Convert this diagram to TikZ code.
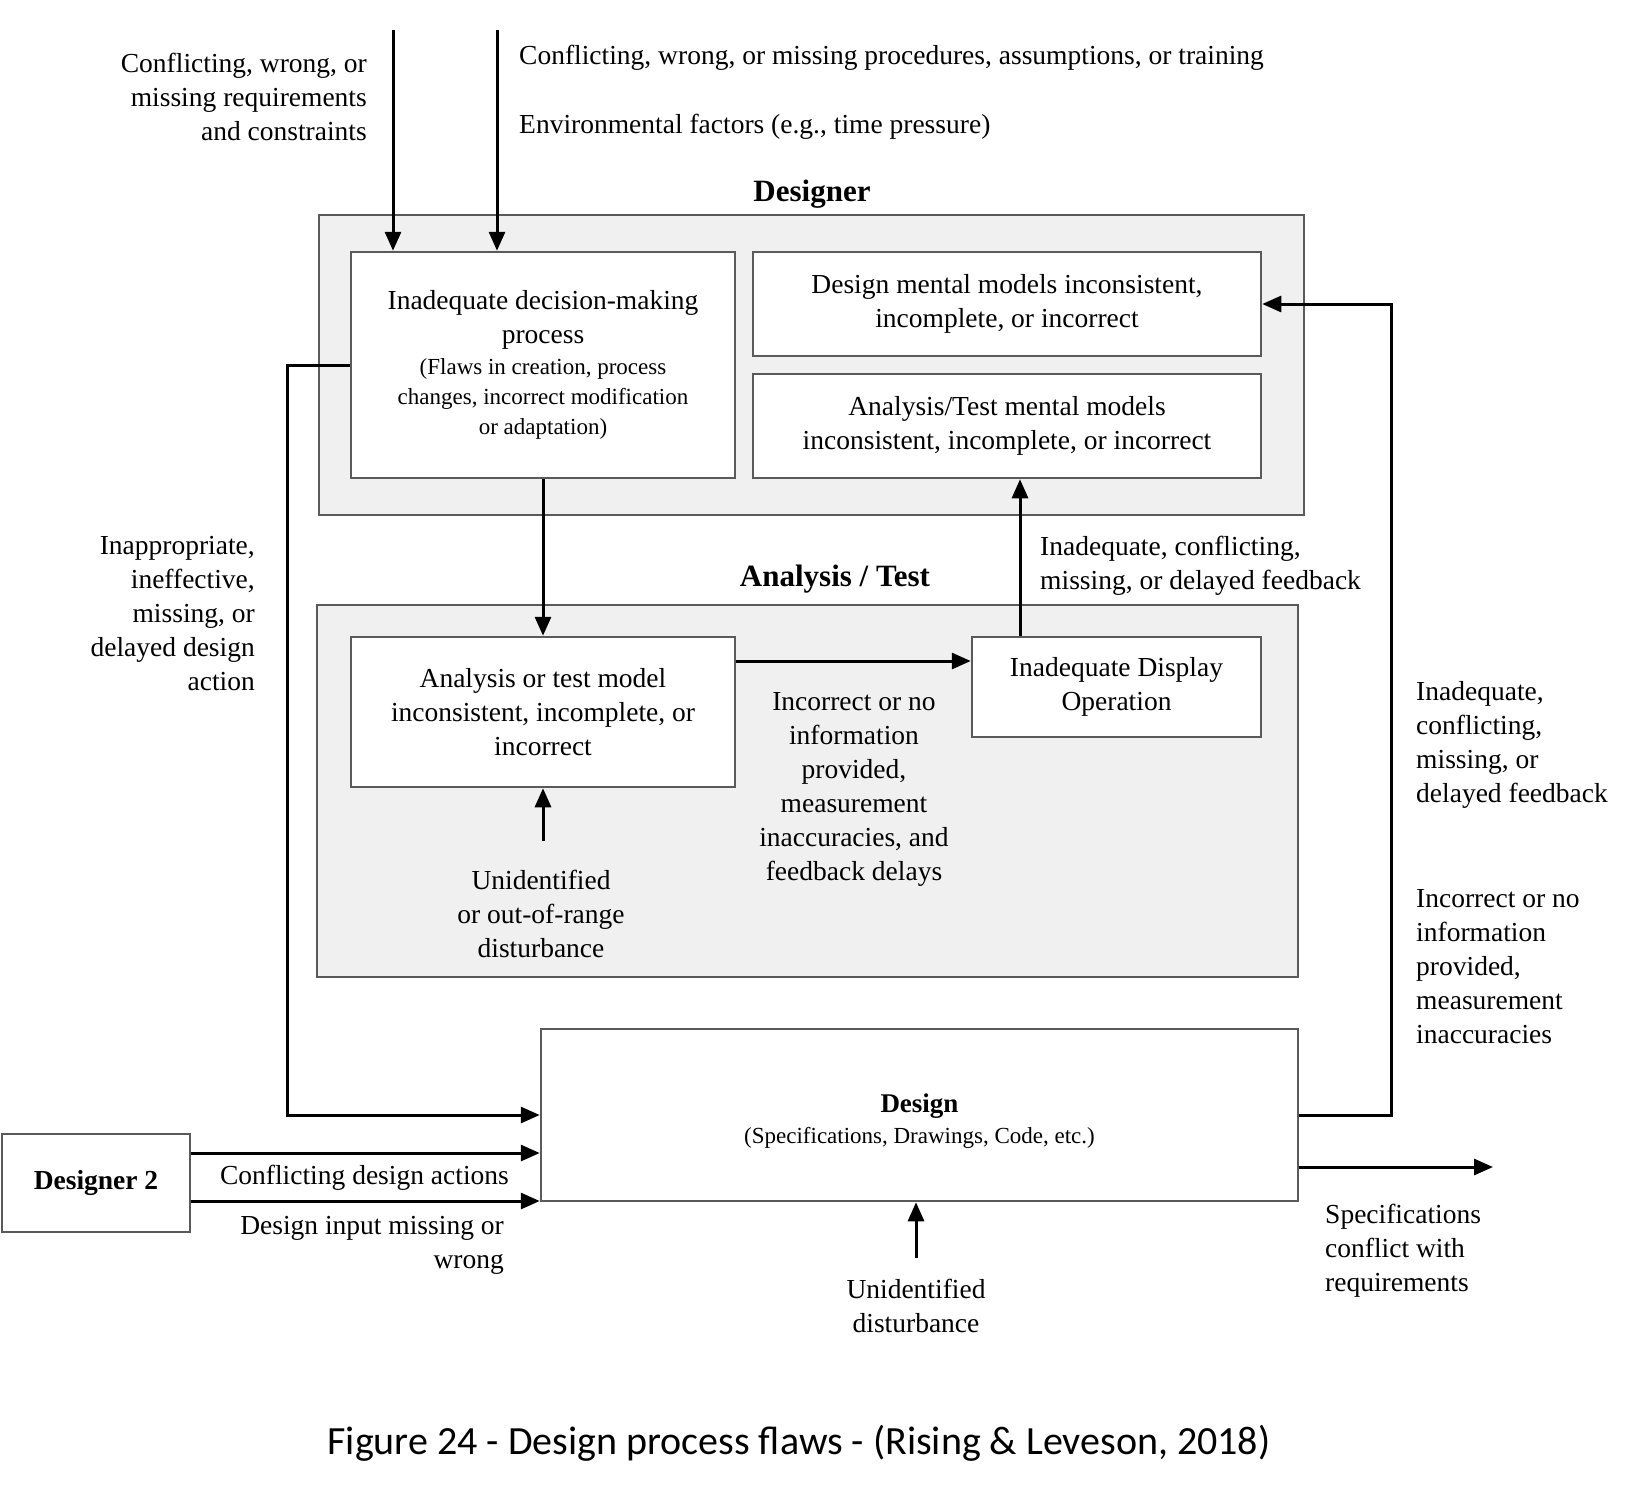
\documentclass[tikz,border=0pt]{standalone}
\usepackage{fontspec}
\setmainfont{Liberation Serif}
\newfontfamily\capfont{Carlito}
\usetikzlibrary{arrows.meta}
\definecolor{boxfill}{RGB}{239,240,239}
\definecolor{boxline}{RGB}{90,90,90}
\begin{document}
\begin{tikzpicture}[x=1pt,y=-1pt,
  txt/.style={inner sep=0pt, font=\fontsize{27.5}{34}\selectfont},
  head/.style={inner sep=0pt, font=\bfseries\fontsize{31}{36}\selectfont},
  outer/.style={draw=boxline, fill=boxfill, line width=2.5pt, inner sep=0pt},
  ibox/.style={draw=boxline, fill=white, line width=2.5pt, inner sep=0pt, align=center, font=\fontsize{27.5}{34}\selectfont},
  arr/.style={line width=3pt, -{Triangle[length=19pt,width=16pt]}},
  ln/.style={line width=3pt}]
\useasboundingbox (0,0) rectangle (1628,1489);
\fill[white] (0,0) rectangle (1628,1489);

% top labels
\node[txt, align=right, anchor=east] (lreq) at (367,97) {Conflicting, wrong, or\\missing requirements\\and constraints};
\node[txt, anchor=west] (lproc) at (519,58) {Conflicting,\ wrong,\ or\ missing\ procedures,\ assumptions,\ or\ training};
\node[txt, anchor=west] (lenv) at (519,127) {Environmental\ factors (e.g., time pressure)};
\node[head] (hdes) at (812,194) {Designer};

% designer block
\node[outer, minimum width=985pt, minimum height=300pt] (desblk) at (811.5,365) {};
\node[ibox, minimum width=384pt, minimum height=226pt] (b1) at (543,365) {Inadequate decision-making\\process\\[-3pt]{\fontsize{23}{30}\selectfont (Flaws in creation, process}\\[-4pt]{\fontsize{23}{30}\selectfont changes, incorrect modification}\\[-4pt]{\fontsize{23}{30}\selectfont or adaptation)}};
\node[ibox, minimum width=508pt, minimum height=104pt] (b2) at (1007,304) {Design mental models inconsistent,\\incomplete, or incorrect};
\node[ibox, minimum width=508pt, minimum height=104pt] (b3) at (1007,426) {Analysis/Test mental models\\inconsistent, incomplete, or incorrect};

% top arrows
\coordinate (t1) at (393,30);
\coordinate (t2) at (497,30);
\draw[arr] (t1) -- (t1 |- b1.north);
\draw[arr] (t2) -- (t2 |- b1.north);

% analysis / test block
\node[head] (hana) at (835,579) {Analysis / Test};
\node[txt, align=left, anchor=west] (lfb1) at (1040,566) {Inadequate, conflicting,\\missing, or delayed feedback};
\node[outer, minimum width=981pt, minimum height=372pt] (anablk) at (807.5,791) {};
\node[ibox, minimum width=384pt, minimum height=150pt] (bA) at (543,712) {Analysis or test model\\inconsistent, incomplete, or\\incorrect};
\node[ibox, minimum width=289pt, minimum height=100pt] (disp) at (1116.5,687) {Inadequate Display\\Operation};
\node[txt, align=center] (linfo) at (854,789) {Incorrect or no\\information\\provided,\\measurement\\inaccuracies, and\\feedback delays};
\node[txt, align=center] (ldist1) at (541,914) {Unidentified\\or out-of-range\\disturbance};
\coordinate (ua) at (543,841);

\draw[arr] (b1.south) -- (bA.north);
\draw[arr] ([yshift=51pt]bA.east) -- ([yshift=51pt]bA.east -| disp.west);
\draw[arr] ([xshift=-96.5pt]disp.north) -- ([xshift=-96.5pt]disp.north |- b3.south);
\draw[arr] (ua) -- (ua |- bA.south);

% left side
\node[txt, align=right, anchor=east] (lact) at (255,614) {Inappropriate,\\ineffective,\\missing, or\\delayed design\\action};

% design block
\node[ibox, minimum width=757pt, minimum height=172pt] (design) at (919.5,1115) {};
\node[inner sep=0pt, align=center, font=\fontsize{27}{34}\selectfont] (designlbl) at (919.5,1121) {{\bfseries Design}\\[-3pt]{\fontsize{23}{30}\selectfont (Specifications, Drawings, Code, etc.)}};

\coordinate (lc) at (287,365);
\draw[arr] (b1.west) -- (lc) |- (design.west);
\coordinate (rc) at (1391,1115);
\draw[arr] (design.east) -- (rc) |- (b2.east);

% right labels
\node[txt, align=left, anchor=west] (lfb2) at (1416,745) {Inadequate,\\conflicting,\\missing, or\\delayed feedback};
\node[txt, align=left, anchor=west] (linfo2) at (1416,967) {Incorrect or no\\information\\provided,\\measurement\\inaccuracies};

% output
\coordinate (oe) at (1493,1167);
\draw[arr] (oe -| design.east) -- (oe);
\node[txt, align=left, anchor=west] (lspec) at (1325,1251) {Specifications\\conflict with\\requirements};

% disturbance to design
\coordinate (ud) at (916,1258);
\draw[arr] (ud) -- (ud |- design.south);
\node[txt, align=center] (ldist2) at (916,1306) {Unidentified\\disturbance};

% designer 2
\node[ibox, minimum width=188pt, minimum height=98pt, font=\bfseries\fontsize{27.5}{34}\selectfont] (d2) at (96,1183) {Designer 2};
\draw[arr] ([yshift=30pt]d2.east) -- ([yshift=30pt]d2.east -| design.west);
\draw[arr] ([yshift=-18pt]d2.east) -- ([yshift=-18pt]d2.east -| design.west);
\node[txt, anchor=east] (lconf) at (509,1178) {Conflicting design actions};
\node[txt, align=right, anchor=east] (lmiss) at (504,1245) {Design input missing or\\wrong};

% caption
\node[inner sep=0pt, font=\capfont\fontsize{40}{48}\selectfont] (cap) at (799,1443) {Figure 24 - Design process flaws - (Rising \& Leveson, 2018)};
\end{tikzpicture}
\end{document}
